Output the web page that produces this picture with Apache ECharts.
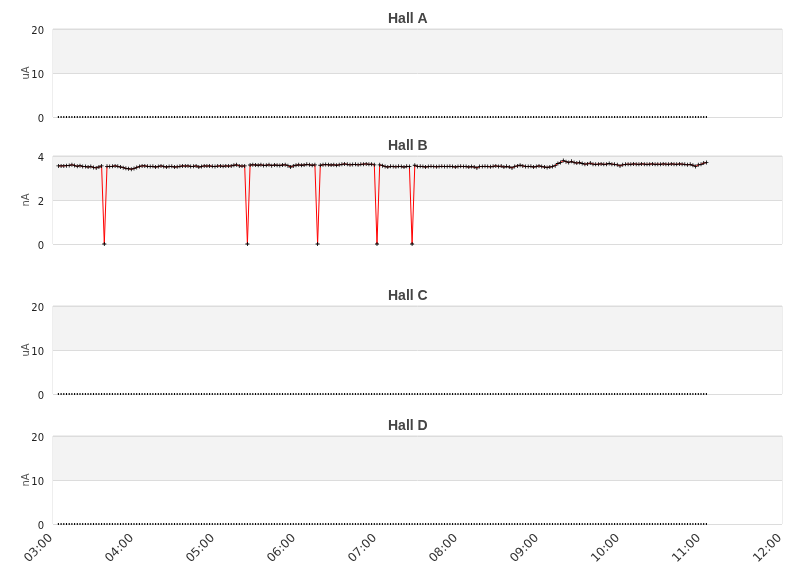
<!DOCTYPE html>
<html><head><meta charset="utf-8">
<script src="https://cdn.jsdelivr.net/npm/echarts@6/dist/echarts.min.js"></script>
<style>html,body{margin:0;padding:0;background:#fff}#c{width:811px;height:578px}</style>
</head><body><div id="c"></div>
<script>
// sampling: first reading at 03:04, one reading every 2 minutes (minutes after 03:00)
const startMinute = 4;
const stepMinutes = 2;
const xTickLabels = ['03:00','04:00','05:00','06:00','07:00','08:00','09:00','10:00','11:00','12:00'];
const hallTitles = ['Hall A','Hall B','Hall C','Hall D'];
const hallUnits = ['uA','nA','uA','nA'];
const yMaxes = [20, 4, 20, 20];
const yIntervals = [10, 2, 10, 10];

const hallA = [
0,0,0,0,0,0,0,0,0,0, 0,0,0,0,0,0,0,0,0,0, 0,0,0,0,0,0,0,0,0,0, 0,0,0,0,0,0,0,0,0,0,
0,0,0,0,0,0,0,0,0,0, 0,0,0,0,0,0,0,0,0,0, 0,0,0,0,0,0,0,0,0,0, 0,0,0,0,0,0,0,0,0,0,
0,0,0,0,0,0,0,0,0,0, 0,0,0,0,0,0,0,0,0,0, 0,0,0,0,0,0,0,0,0,0, 0,0,0,0,0,0,0,0,0,0,
0,0,0,0,0,0,0,0,0,0, 0,0,0,0,0,0,0,0,0,0, 0,0,0,0,0,0,0,0,0,0, 0,0,0,0,0,0,0,0,0,0,
0,0,0,0,0,0,0,0,0,0, 0,0,0,0,0,0,0,0,0,0, 0,0,0,0,0,0,0,0,0,0, 0,0,0,0,0,0,0,0,0,0,
0,0,0,0,0,0,0,0,0,0, 0,0,0,0,0,0,0,0,0,0, 0,0,0,0,0,0,0,0,0,0, 0,0,0,0,0,0,0,0,0,0,
0];

const hallB = [
3.55,3.55,3.55,3.56,3.57,3.60,3.57,3.53,3.56,3.52,
3.52,3.50,3.52,3.48,3.46,3.50,3.55,
0,
3.53,3.52,3.53,3.55,3.53,3.50,3.47,3.44,3.42,3.40,3.43,3.48,
3.52,3.55,3.55,3.53,3.52,3.53,3.50,3.52,3.55,3.52,
3.50,3.52,3.53,3.50,3.51,3.53,3.55,3.54,3.55,3.52,
3.53,3.55,3.50,3.52,3.55,3.54,3.55,3.53,3.52,3.54,
3.55,3.53,3.55,3.54,3.55,3.58,3.60,3.55,3.54,3.55,
0,
3.59,3.60,3.59,3.58,3.60,3.57,3.58,3.60,3.56,3.59,
3.58,3.57,3.59,3.60,3.56,3.50,3.55,3.58,3.60,3.58,3.59,3.62,3.60,3.58,3.60,
0,
3.58,3.60,3.61,3.60,3.59,3.60,3.58,3.60,3.62,3.64,3.62,3.60,3.61,3.62,3.60,3.62,3.63,3.64,3.62,3.63,3.60,
0,
3.60,3.56,3.52,3.50,3.53,3.52,3.51,3.53,3.52,3.50,3.53,3.52,
0,
3.58,3.52,3.53,3.52,3.50,3.52,3.53,3.52,3.51,3.52,
3.53,3.52,3.52,3.53,3.52,3.50,3.52,3.53,3.52,3.52,
3.50,3.52,3.50,3.46,3.52,3.52,3.53,3.52,3.51,3.53,
3.55,3.52,3.54,3.50,3.53,3.50,3.46,3.52,3.55,3.58,
3.55,3.52,3.52,3.53,3.50,3.52,3.55,3.52,3.50,3.48,
3.50,3.52,3.56,3.66,
3.70,3.79,3.74,3.70,3.76,3.70,3.68,3.70,3.66,
3.63,3.64,3.68,3.63,3.62,3.63,3.64,3.62,3.63,3.66,
3.63,3.62,3.60,3.55,3.60,3.62,3.63,3.62,3.64,3.63,
3.62,3.64,3.63,3.62,3.63,3.64,3.62,3.63,3.62,3.64,
3.63,3.62,3.64,3.63,3.62,3.64,3.63,3.62,3.60,3.62,
3.58,3.52,3.60,3.62,3.68,3.70];

const hallC = [
0,0,0,0,0,0,0,0,0,0, 0,0,0,0,0,0,0,0,0,0, 0,0,0,0,0,0,0,0,0,0, 0,0,0,0,0,0,0,0,0,0,
0,0,0,0,0,0,0,0,0,0, 0,0,0,0,0,0,0,0,0,0, 0,0,0,0,0,0,0,0,0,0, 0,0,0,0,0,0,0,0,0,0,
0,0,0,0,0,0,0,0,0,0, 0,0,0,0,0,0,0,0,0,0, 0,0,0,0,0,0,0,0,0,0, 0,0,0,0,0,0,0,0,0,0,
0,0,0,0,0,0,0,0,0,0, 0,0,0,0,0,0,0,0,0,0, 0,0,0,0,0,0,0,0,0,0, 0,0,0,0,0,0,0,0,0,0,
0,0,0,0,0,0,0,0,0,0, 0,0,0,0,0,0,0,0,0,0, 0,0,0,0,0,0,0,0,0,0, 0,0,0,0,0,0,0,0,0,0,
0,0,0,0,0,0,0,0,0,0, 0,0,0,0,0,0,0,0,0,0, 0,0,0,0,0,0,0,0,0,0, 0,0,0,0,0,0,0,0,0,0,
0];

const hallD = [
0,0,0,0,0,0,0,0,0,0, 0,0,0,0,0,0,0,0,0,0, 0,0,0,0,0,0,0,0,0,0, 0,0,0,0,0,0,0,0,0,0,
0,0,0,0,0,0,0,0,0,0, 0,0,0,0,0,0,0,0,0,0, 0,0,0,0,0,0,0,0,0,0, 0,0,0,0,0,0,0,0,0,0,
0,0,0,0,0,0,0,0,0,0, 0,0,0,0,0,0,0,0,0,0, 0,0,0,0,0,0,0,0,0,0, 0,0,0,0,0,0,0,0,0,0,
0,0,0,0,0,0,0,0,0,0, 0,0,0,0,0,0,0,0,0,0, 0,0,0,0,0,0,0,0,0,0, 0,0,0,0,0,0,0,0,0,0,
0,0,0,0,0,0,0,0,0,0, 0,0,0,0,0,0,0,0,0,0, 0,0,0,0,0,0,0,0,0,0, 0,0,0,0,0,0,0,0,0,0,
0,0,0,0,0,0,0,0,0,0, 0,0,0,0,0,0,0,0,0,0, 0,0,0,0,0,0,0,0,0,0, 0,0,0,0,0,0,0,0,0,0,
0];

const hallSeries = [hallA, hallB, hallC, hallD];

const gridTops = [29, 156, 306, 436];
const gridH = 88;
const titleTops = [12, 139, 289, 419];

const toPoints = arr => arr.map((v, i) => [startMinute + i * stepMinutes, v]);

const chart = echarts.init(document.getElementById('c'), null, {renderer: 'canvas'});
const option = {
  animation: false,
  backgroundColor: '#fff',
  title: hallTitles.map((t, k) => ({
    text: t, left: 388, top: titleTops[k], padding: 0,
    textStyle: {fontFamily: 'Liberation Sans', fontSize: 14, fontWeight: 'bold', color: '#444'}
  })),
  grid: gridTops.map(t => ({
    left: 53, right: 29, top: t, height: gridH, show: true,
    borderColor: '#dcdcdc', borderWidth: 1, backgroundColor: 'transparent'
  })),
  xAxis: gridTops.map((t, k) => ({
    type: 'value', gridIndex: k, min: 0, max: 540, interval: 60,
    axisLine: {show: false}, axisTick: {show: false}, splitLine: {show: false},
    axisLabel: {
      show: k === 3, rotate: 45, margin: 10, padding: [0, 3, 0, 0],
      fontFamily: 'DejaVu Sans', fontSize: 12, color: '#333',
      formatter: v => xTickLabels[Math.round(v / 60)]
    }
  })),
  yAxis: gridTops.map((t, k) => ({
    type: 'value', gridIndex: k, min: 0, max: yMaxes[k], interval: yIntervals[k],
    name: hallUnits[k], nameLocation: 'middle', nameGap: 22, nameMoveOverlap: false,
    nameTextStyle: {fontFamily: 'DejaVu Sans', fontSize: 10, color: '#555'},
    axisLine: {show: false}, axisTick: {show: false},
    axisLabel: {
      margin: 9,
      formatter: v => '{t|' + v + '}',
      rich: {t: {fontFamily: 'DejaVu Sans', fontSize: 10, color: '#222', padding: [4, 0, 0, 0]}}
    },
    splitLine: {show: true, lineStyle: {color: '#dcdcdc', width: 1}},
    splitArea: {show: true, areaStyle: {color: ['#ffffff', '#f3f3f3']}}
  })),
  series: hallSeries.map((arr, k) => {
    const isB = k === 1;
    return {
      type: 'line', xAxisIndex: k, yAxisIndex: k,
      data: toPoints(arr),
      showAllSymbol: true,
      symbol: isB ? 'path://M2,0H3V2H5V3H3V5H2V3H0V2H2Z' : 'rect',
      symbolSize: isB ? 4 : [1.1, 2],
      itemStyle: {color: '#000'},
      lineStyle: isB ? {color: '#ff0000', width: 1} : {color: '#ff0000', width: 1, opacity: 0},
      emphasis: {disabled: true},
      clip: false
    };
  })
};
chart.setOption(option);
</script>
</body></html>
